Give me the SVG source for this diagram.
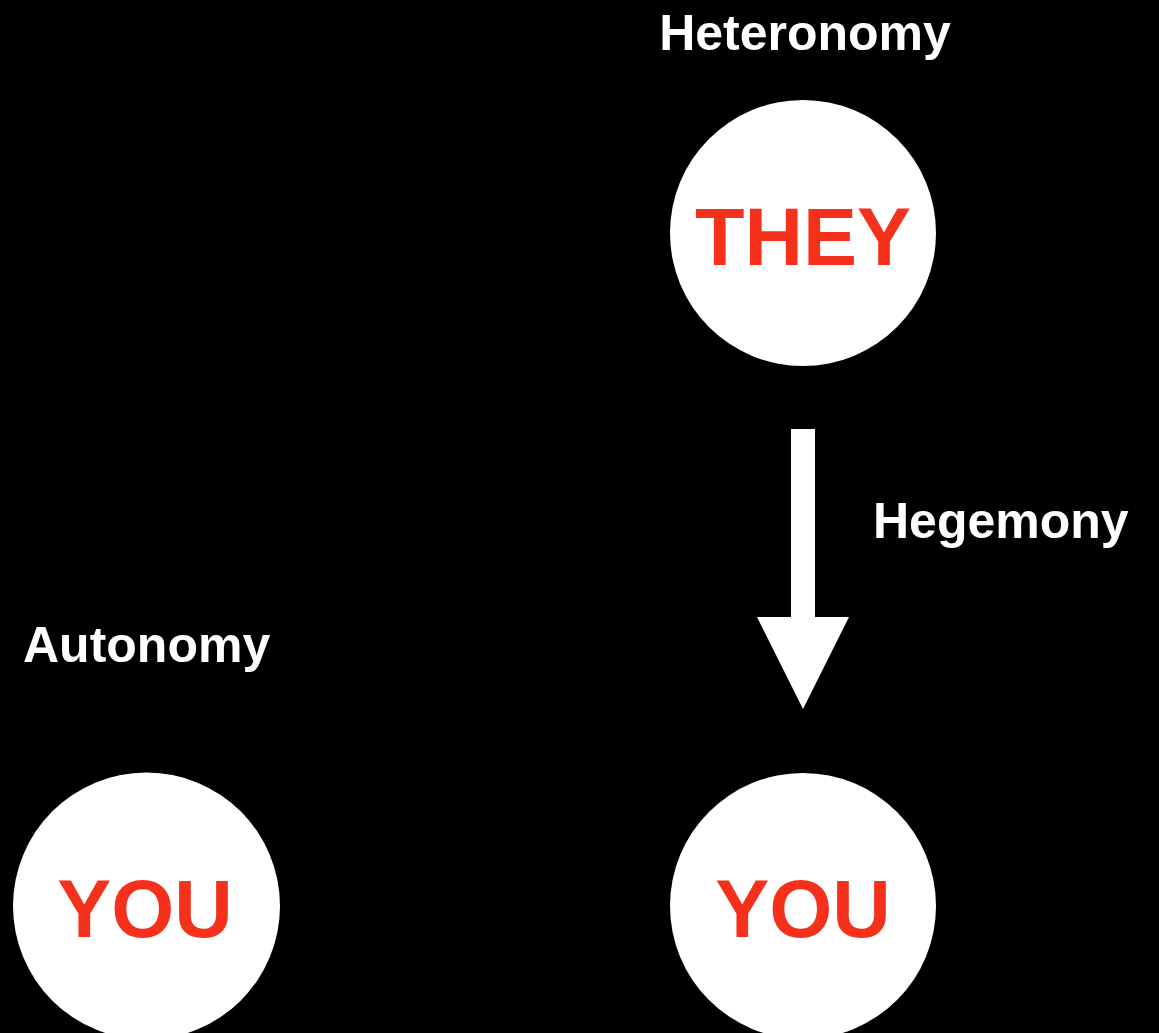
<svg xmlns="http://www.w3.org/2000/svg" width="1159" height="1033" viewBox="0 0 1159 1033">
  <style>
    .lbl { font-family: "Liberation Sans", Arial, sans-serif; font-weight: bold; font-size: 50px; fill: #ffffff; }
    .big { font-family: "Liberation Sans", Arial, sans-serif; font-weight: bold; font-size: 81px; fill: #F5301B; text-anchor: middle; }
    .node { fill: #ffffff; }
  </style>
  <rect x="0" y="0" width="1159" height="1033" fill="#000000"/>
  <text class="lbl" x="805" y="50" text-anchor="middle">Heteronomy</text>
  <text class="lbl" x="873" y="538">Hegemony</text>
  <text class="lbl" x="23" y="662">Autonomy</text>
  <g id="they">
    <circle class="node" cx="803" cy="233" r="133"/>
    <text class="big" x="803" y="265">THEY</text>
  </g>
  <g id="you-left">
    <circle class="node" cx="146.5" cy="906" r="133.5"/>
    <text class="big" x="145" y="937">YOU</text>
  </g>
  <g id="you-right">
    <circle class="node" cx="803" cy="906" r="133"/>
    <text class="big" x="803" y="937">YOU</text>
  </g>
  <g id="connectors">
    <path d="M791 429 H815 V617 H849 L803 709 L757 617 H791 Z" fill="#ffffff"/>
  </g>
</svg>
